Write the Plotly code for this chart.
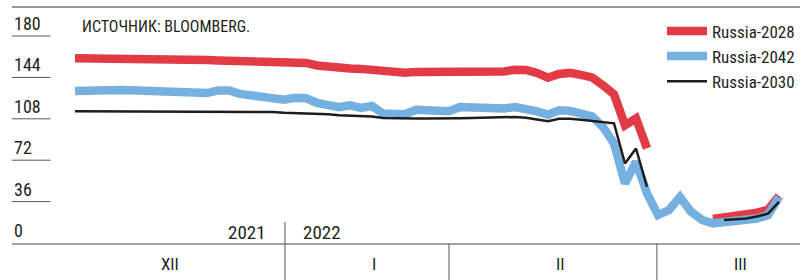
import plotly.graph_objects as go

# ---- data ----
day_index = list(range(65))  # trading-day index, Dec 2021 .. Mar 2022

russia_2028 = [160.7, 160.7, 160.7, 160.6, 160.5, 160.3, 160.1, 159.8, 159.6, 159.4,
               159.3, 159.2, 159.1, 158.8, 158.5, 158.3, 158.1, 157.9, 157.9, 157.7,
               157.5, 156.6, 154.4, 153.1, 151.6, 151.8, 151.4, 150.5, 148.1, 147.9,
               148.1, 148.8, 148.8, 148.1, 148.3, 149.2, 149.2, 149.0, 149.0, 149.2,
               150.7, 150.5, 147.9, 143.7, 147.0, 147.9, 146.2, 144.0, 137.1, 129.3,
               102.4, 108.4, 82.4, None, None, None, None, None, 20.8, 22.0,
               23.2, 24.6, 26.4, 28.8, 41.0]

russia_2042 = [132.1, 132.7, 133.3, 133.2, 133.0, 132.9, 132.7, 131.4, 130.7, 130.6,
               130.6, 130.4, 130.4, 132.7, 132.7, 129.7, 128.6, 127.5, 126.7, 124.7,
               126.2, 125.8, 121.9, 120.1, 118.2, 119.7, 117.4, 119.1, 112.5, 112.1,
               111.9, 115.8, 115.2, 114.7, 114.5, 118.2, 117.7, 117.4, 117.1, 116.9,
               118.2, 117.1, 114.5, 111.6, 115.4, 114.9, 113.2, 110.2, 100.9, 86.5,
               51.8, 70.5, 43.1, 24.3, 28.6, 39.9, 27.2, 20.0, 17.1, 17.8,
               18.7, 19.5, 21.3, 24.3, 39.9]

russia_2030 = [114.5, 114.5, 114.4, 114.4, 114.3, 114.3, 114.3, 114.3, 114.3, 114.2,
               114.2, 114.1, 114.1, 114.1, 114.0, 114.0, 113.9, 113.9, 113.9, 113.2,
               113.0, 112.9, 112.5, 111.9, 111.0, 110.8, 110.2, 110.0, 108.7, 108.4,
               108.4, 108.3, 108.3, 108.2, 108.2, 108.4, 108.6, 108.9, 108.9, 109.3,
               109.6, 108.9, 107.6, 105.8, 108.0, 108.0, 107.1, 106.3, 105.4, 104.1,
               69.1, 82.2, 48.8, None, None, None, None, None, None, 20.0,
               20.6, 21.4, 23.0, 25.6, 35.8]

y_ticks = [0, 36, 72, 108, 144, 180]
month_labels = ["XII", "I", "II", "III"]
month_label_pos = [8.6, 27.2, 44.1, 60.5]
month_bounds = [19.09, 34.0, 52.9]   # first bound = year change
year_labels = ["2021", "2022"]
source_text = "ИСТОЧНИК: BLOOMBERG."

FONT = "Liberation Sans Narrow, Arial Narrow, Roboto Condensed, Roboto, sans-serif"
TXT = "#231f20"
RED = "#e33b45"
BLUE = "#76b0e0"
BLACK = "#1d1d1b"

fig = go.Figure()
fig.add_trace(go.Scatter(x=day_index, y=russia_2028, mode="lines", name="Russia-2028",
                         line=dict(color=RED, width=8.5), connectgaps=False))
fig.add_trace(go.Scatter(x=day_index, y=russia_2042, mode="lines", name="Russia-2042",
                         line=dict(color=BLUE, width=8.5), connectgaps=False))
fig.add_trace(go.Scatter(x=day_index, y=russia_2030, mode="lines", name="Russia-2030",
                         line=dict(color=BLACK, width=2.5), connectgaps=False))

shapes = []
annotations = []
# top rule
shapes.append(dict(type="line", xref="paper", yref="paper", x0=0.015, x1=1, y0=0.975, y1=0.975,
                   line=dict(color="#333", width=1.2)))
# baseline
shapes.append(dict(type="line", xref="paper", yref="paper", x0=0.015, x1=1, y0=0.1286, y1=0.1286,
                   line=dict(color="#444", width=1)))
# tick stubs + labels
for t in y_ticks:
    if t != 0:
        shapes.append(dict(type="line", xref="paper", yref="y", x0=0.015, x1=0.063, y0=t, y1=t,
                           line=dict(color="#555", width=1)))
    annotations.append(dict(text=str(t), xref="paper", yref="y", x=0.015, y=t, xanchor="left",
                            yanchor="bottom", yshift=0, showarrow=False,
                            font=dict(family=FONT, size=18, color=TXT)))
# month separators
for i, b in enumerate(month_bounds):
    shapes.append(dict(type="line", xref="x", yref="paper", x0=b, x1=b,
                       y0=0, y1=(0.207 if i == 0 else 0.1286),
                       line=dict(color="#555", width=1)))
for lab, pos in zip(month_labels, month_label_pos):
    annotations.append(dict(text=lab, xref="x", yref="paper", x=pos, y=0.057, xanchor="center",
                            yanchor="middle", showarrow=False,
                            font=dict(family=FONT, size=17, color=TXT)))
annotations.append(dict(text=year_labels[0], xref="x", yref="paper", x=month_bounds[0], xshift=-17,
                        y=0.171, xanchor="right", yanchor="middle", showarrow=False,
                        font=dict(family=FONT, size=19, color=TXT)))
annotations.append(dict(text=year_labels[1], xref="x", yref="paper", x=month_bounds[0], xshift=16,
                        y=0.171, xanchor="left", yanchor="middle", showarrow=False,
                        font=dict(family=FONT, size=19, color=TXT)))
annotations.append(dict(text=source_text, xref="paper", yref="paper", x=0.1, y=0.904,
                        xanchor="left", yanchor="middle", showarrow=False,
                        font=dict(family=FONT, size=16, color=TXT)))

fig.update_layout(
    width=800, height=280,
    margin=dict(l=0, r=0, t=0, b=0),
    paper_bgcolor="white", plot_bgcolor="white",
    xaxis=dict(range=[-6.818, 65.909], visible=False, fixedrange=True),
    yaxis=dict(range=[-32.17, 211.3], visible=False, fixedrange=True),
    showlegend=True,
    hovermode=False,
    legend=dict(x=1.0, xanchor="right", y=0.952, yanchor="top",
                bgcolor="rgba(0,0,0,0)", font=dict(family=FONT, size=17, color=TXT),
                itemwidth=40, tracegroupgap=0),
    shapes=shapes, annotations=annotations,
)

fig.write_html("out.html", config={"displayModeBar": False},
               post_script="document.body.style.margin='0px';")
